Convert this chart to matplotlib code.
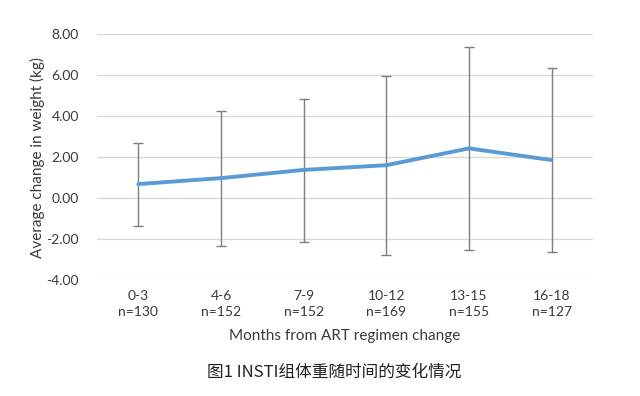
import matplotlib
matplotlib.use("Agg")
import matplotlib.pyplot as plt
import numpy as np

categories = ["0-3", "4-6", "7-9", "10-12", "13-15", "16-18"]
counts = [130, 152, 152, 169, 155, 127]
means = [0.68, 0.97, 1.37, 1.60, 2.42, 1.85]
upper = [2.68, 4.25, 4.85, 5.97, 7.38, 6.33]
lower = [-1.37, -2.35, -2.15, -2.78, -2.54, -2.62]
yticks = [-4, -2, 0, 2, 4, 6, 8]

plt.rcParams['font.family'] = ['Lato', 'DejaVu Sans']

fig = plt.figure(figsize=(6.4, 3.96), dpi=100)
ax = fig.add_axes([97/640, 1-280/396, 496/640, 246/396])

x = np.arange(len(categories))
m = np.array(means)
yerr = np.array([m - np.array(lower), np.array(upper) - m])
ax.errorbar(x, m, yerr=yerr, fmt='none', ecolor='#7f7f7f', elinewidth=1.0,
            capsize=3.5, capthick=1.0, zorder=2)
ax.plot(x, m, color='#5B9BD5', linewidth=2.8, solid_capstyle='round', zorder=3)

ax.set_xlim(-0.5, len(categories) - 0.5)
ax.set_ylim(-4, 8)
ax.set_yticks(yticks)
ax.set_yticklabels([f"{v:.2f}" for v in yticks], fontsize=10, color='#3a3a3a')
ax.set_xticks(x)
ax.set_xticklabels([f"{c}\nn={n}" for c, n in zip(categories, counts)],
                   fontsize=10, color='#3a3a3a', linespacing=1.4)
ax.grid(axis='y', color='#d9d9d9', linewidth=1.0)
ax.set_axisbelow(True)
for s in ax.spines.values():
    s.set_visible(False)
ax.tick_params(length=0, pad=7)
ax.tick_params(axis='y', pad=13)

ax.set_ylabel("Average change in weight (kg)", fontsize=11, color='#3a3a3a', labelpad=1)
ax.set_xlabel("Months from ART regimen change", fontsize=11, color='#3a3a3a', labelpad=8)

fig.text(334/640, 1-372/396, "图1 INSTI组体重随时间的变化情况", ha='center', va='center',
         fontsize=12, color='#222222', family=['Noto Sans CJK SC', 'DejaVu Sans'])

fig.savefig("out.png", dpi=100, facecolor='white')
